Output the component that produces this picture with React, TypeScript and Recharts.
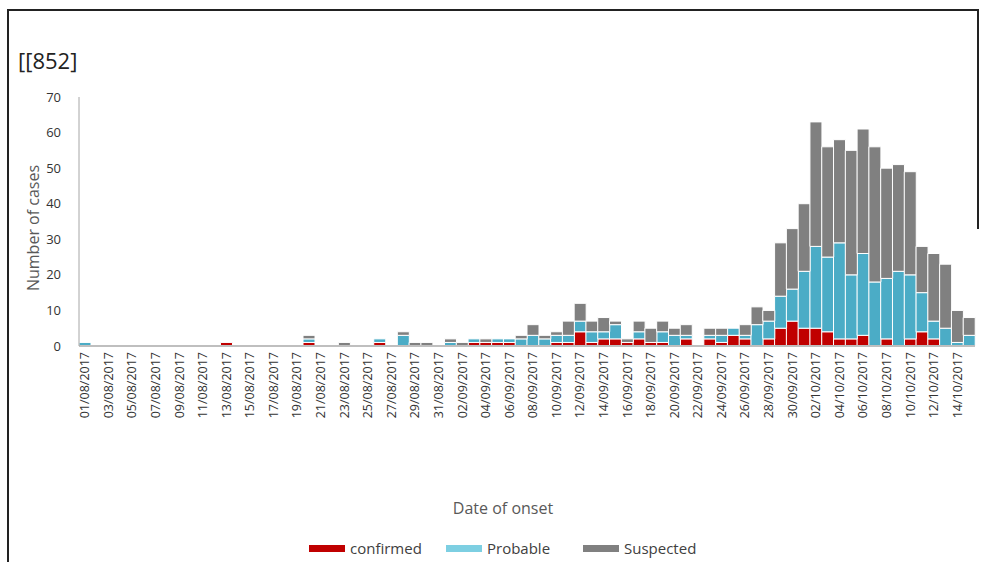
import React from 'react';
import { BarChart, Bar, XAxis, YAxis } from 'recharts';

const dates = [
  '01/08/2017', '02/08/2017', '03/08/2017', '04/08/2017', '05/08/2017', '06/08/2017', '07/08/2017', '08/08/2017',
  '09/08/2017', '10/08/2017', '11/08/2017', '12/08/2017', '13/08/2017', '14/08/2017', '15/08/2017', '16/08/2017',
  '17/08/2017', '18/08/2017', '19/08/2017', '20/08/2017', '21/08/2017', '22/08/2017', '23/08/2017', '24/08/2017',
  '25/08/2017', '26/08/2017', '27/08/2017', '28/08/2017', '29/08/2017', '30/08/2017', '31/08/2017',
  '01/09/2017', '02/09/2017', '03/09/2017', '04/09/2017', '05/09/2017', '06/09/2017', '07/09/2017', '08/09/2017',
  '09/09/2017', '10/09/2017', '11/09/2017', '12/09/2017', '13/09/2017', '14/09/2017', '15/09/2017', '16/09/2017',
  '17/09/2017', '18/09/2017', '19/09/2017', '20/09/2017', '21/09/2017', '22/09/2017', '23/09/2017', '24/09/2017',
  '25/09/2017', '26/09/2017', '27/09/2017', '28/09/2017', '29/09/2017', '30/09/2017',
  '01/10/2017', '02/10/2017', '03/10/2017', '04/10/2017', '05/10/2017', '06/10/2017', '07/10/2017', '08/10/2017',
  '09/10/2017', '10/10/2017', '11/10/2017', '12/10/2017', '13/10/2017', '14/10/2017', '15/10/2017',
];

const confirmed = [
  0, 0, 0, 0, 0, 0, 0, 0, 0, 0,
  0, 0, 1, 0, 0, 0, 0, 0, 0, 1,
  0, 0, 0, 0, 0, 1, 0, 0, 0, 0,
  0, 0, 0, 1, 1, 1, 1, 0, 0, 0,
  1, 1, 4, 1, 2, 2, 1, 2, 1, 1,
  0, 2, 0, 2, 1, 3, 2, 0, 2, 5,
  7, 5, 5, 4, 2, 2, 3, 0, 2, 0,
  2, 4, 2, 0, 0, 0,
];

const probable = [
  1, 0, 0, 0, 0, 0, 0, 0, 0, 0,
  0, 0, 0, 0, 0, 0, 0, 0, 0, 1,
  0, 0, 0, 0, 0, 1, 0, 3, 0, 0,
  0, 1, 0, 1, 0, 1, 1, 2, 3, 2,
  2, 2, 3, 3, 2, 4, 0, 2, 0, 3,
  3, 1, 0, 1, 2, 2, 1, 6, 5, 9,
  9, 16, 23, 21, 27, 18, 23, 18, 17, 21,
  18, 11, 5, 5, 1, 3,
];

const suspected = [
  0, 0, 0, 0, 0, 0, 0, 0, 0, 0,
  0, 0, 0, 0, 0, 0, 0, 0, 0, 1,
  0, 0, 1, 0, 0, 0, 0, 1, 1, 1,
  0, 1, 1, 0, 1, 0, 0, 1, 3, 1,
  1, 4, 5, 3, 4, 1, 1, 3, 4, 3,
  2, 3, 0, 2, 2, 0, 3, 5, 3, 15,
  17, 19, 35, 31, 29, 35, 35, 38, 31, 30,
  29, 13, 19, 18, 9, 5,
];

const yTicks = [0, 10, 20, 30, 40, 50, 60, 70];

const data = dates.map((d, i) => ({
  date: d,
  confirmed: confirmed[i],
  probable: probable[i],
  suspected: suspected[i],
}));

const FONT = '"Open Sans", "Liberation Sans", sans-serif';

const DateTick = (props: any) => {
  const { x, y, payload } = props;
  return (
    <g transform={`translate(${x},${y})`}>
      <text
        transform="rotate(-90)"
        textAnchor="end"
        dy="0.35em"
        fontSize={12.5}
        fontFamily={FONT}
        fill="#333"
      >
        {payload.value}
      </text>
    </g>
  );
};

const legendItems = [
  { label: 'confirmed', color: '#c00000', left: 309 },
  { label: 'Probable', color: '#7dcfe2', left: 446 },
  { label: 'Suspected', color: '#808080', left: 583 },
];

export default function App() {
  return (
    <div
      style={{
        position: 'absolute',
        left: 0,
        top: 0,
        width: 986,
        height: 562,
        background: '#fff',
        overflow: 'hidden',
        fontFamily: FONT,
      }}
    >
      {/* frame */}
      <div style={{ position: 'absolute', left: 7, top: 9, width: 2, height: 560, background: '#222' }} />
      <div style={{ position: 'absolute', left: 7, top: 9, width: 972, height: 2, background: '#222' }} />
      <div style={{ position: 'absolute', left: 977, top: 9, width: 2, height: 220, background: '#222' }} />

      <div style={{ position: 'absolute', left: 18, top: 45, fontSize: 22, color: '#222', lineHeight: '30px' }}>
        [[852]
      </div>

      <BarChart
        width={986}
        height={562}
        data={data}
        margin={{ top: 97, right: 11, bottom: 136, left: 39 }}
        barCategoryGap={0}
        style={{ position: 'absolute', left: 0, top: 0 }}
      >
        <XAxis
          dataKey="date"
          interval={1}
          height={80}
          tickLine={false}
          tickSize={0}
          tickMargin={6}
          axisLine={{ stroke: '#bfbfbf', strokeWidth: 2 }}
          tick={<DateTick />}
        />
        <YAxis
          domain={[0, 70]}
          ticks={yTicks}
          width={40}
          tickLine={false}
          tickSize={0}
          tickMargin={18}
          axisLine={{ stroke: '#a6a6a6', strokeWidth: 1 }}
          tick={{ fontSize: 13, fill: '#333', fontFamily: FONT }}
        />
        <Bar dataKey="confirmed" stackId="a" fill="#c00000" stroke="#fff" strokeWidth={1} isAnimationActive={false} />
        <Bar dataKey="probable" stackId="a" fill="#4bacc6" stroke="#fff" strokeWidth={1} isAnimationActive={false} />
        <Bar dataKey="suspected" stackId="a" fill="#808080" stroke="#fff" strokeWidth={1} isAnimationActive={false} />
      </BarChart>

      <div
        style={{
          position: 'absolute',
          left: 33,
          top: 228,
          transform: 'translate(-50%, -50%) rotate(-90deg)',
          fontSize: 16,
          color: '#595959',
          whiteSpace: 'nowrap',
        }}
      >
        Number of cases
      </div>

      <div
        style={{
          position: 'absolute',
          left: 503,
          top: 508,
          transform: 'translate(-50%, -50%)',
          fontSize: 16,
          color: '#595959',
          whiteSpace: 'nowrap',
        }}
      >
        Date of onset
      </div>

      {legendItems.map((item) => (
        <div
          key={item.label}
          style={{
            position: 'absolute',
            left: item.left,
            top: 538,
            height: 20,
            display: 'flex',
            alignItems: 'center',
            fontSize: 15,
            color: '#404040',
            whiteSpace: 'nowrap',
          }}
        >
          <span style={{ display: 'inline-block', width: 36, height: 7, background: item.color, marginRight: 5 }} />
          {item.label}
        </div>
      ))}
    </div>
  );
}
